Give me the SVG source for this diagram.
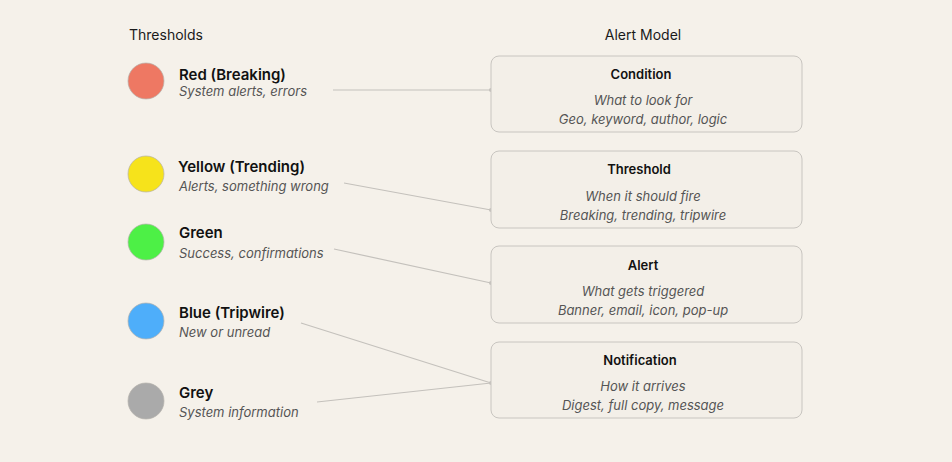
<svg xmlns="http://www.w3.org/2000/svg" width="952" height="462" viewBox="0 0 952 462">
<style>
.h{font-family:Inter,"Liberation Sans",sans-serif;font-size:14px;fill:#1a1a1a}
.t{font-family:Inter,"Liberation Sans",sans-serif;font-size:15px;font-weight:600;fill:#111}
.s{font-family:Inter,"Liberation Sans",sans-serif;font-size:13px;font-style:italic;fill:#555}
.bt{font-family:Inter,"Liberation Sans",sans-serif;font-size:13px;font-weight:600;fill:#111}
.box{fill:#f3efe8;stroke:#c8c5c0;stroke-width:1}
.c{stroke:#b5b2ad;stroke-width:1;stroke-opacity:.7}
.ln{stroke:#c4c1bc;stroke-width:1.2;fill:none}
.d{fill:#c4c1bc}
</style>
<rect width="952" height="462" fill="#f5f1ea"/>
<text class="h" x="129" y="40">Thresholds</text>
<text class="h" x="643" y="40" text-anchor="middle">Alert Model</text>
<g id="connectors">
<path class="ln" d="M333 90L491 90M344 183L491 210M334 249L491 283M301 323L491 383M317 402L491 383"/>
<circle class="d" cx="491" cy="90" r="2"/><circle class="d" cx="491" cy="210" r="2"/><circle class="d" cx="491" cy="283" r="2"/><circle class="d" cx="491" cy="383" r="2"/>
</g>
<g id="red"><circle class="c" cx="146" cy="81" r="18" fill="#ee7863"/><text class="t" x="179" y="80">Red (Breaking)</text><text class="s" x="179" y="96">System alerts, errors</text></g>
<g id="yellow"><circle class="c" cx="146" cy="174" r="18" fill="#f6e31b"/><text class="t" x="178" y="172">Yellow (Trending)</text><text class="s" x="179" y="191">Alerts, something wrong</text></g>
<g id="green"><circle class="c" cx="146" cy="242" r="18" fill="#4df046"/><text class="t" x="179" y="238">Green</text><text class="s" x="179" y="258">Success, confirmations</text></g>
<g id="blue"><circle class="c" cx="146" cy="321" r="18" fill="#4eaefa"/><text class="t" x="179" y="318">Blue (Tripwire)</text><text class="s" x="179" y="337">New or unread</text></g>
<g id="grey"><circle class="c" cx="146" cy="401" r="18" fill="#aaaaaa"/><text class="t" x="179" y="398">Grey</text><text class="s" x="179" y="417">System information</text></g>
<g id="condition"><rect class="box" x="491" y="56" width="311" height="76" rx="8"/><text class="bt" x="641" y="79" text-anchor="middle">Condition</text><text class="s" x="643" y="105" text-anchor="middle">What to look for</text><text class="s" x="643" y="124" text-anchor="middle">Geo, keyword, author, logic</text></g>
<g id="threshold"><rect class="box" x="491" y="151" width="311" height="77" rx="8"/><text class="bt" x="639" y="174" text-anchor="middle">Threshold</text><text class="s" x="643" y="201" text-anchor="middle">When it should fire</text><text class="s" x="643" y="220" text-anchor="middle">Breaking, trending, tripwire</text></g>
<g id="alert"><rect class="box" x="491" y="246" width="311" height="77" rx="8"/><text class="bt" x="643" y="270" text-anchor="middle">Alert</text><text class="s" x="643" y="296" text-anchor="middle">What gets triggered</text><text class="s" x="643" y="315" text-anchor="middle">Banner, email, icon, pop-up</text></g>
<g id="notification"><rect class="box" x="491" y="342" width="311" height="76" rx="8"/><text class="bt" x="640" y="365" text-anchor="middle">Notification</text><text class="s" x="643" y="391" text-anchor="middle">How it arrives</text><text class="s" x="643" y="410" text-anchor="middle">Digest, full copy, message</text></g>
</svg>
